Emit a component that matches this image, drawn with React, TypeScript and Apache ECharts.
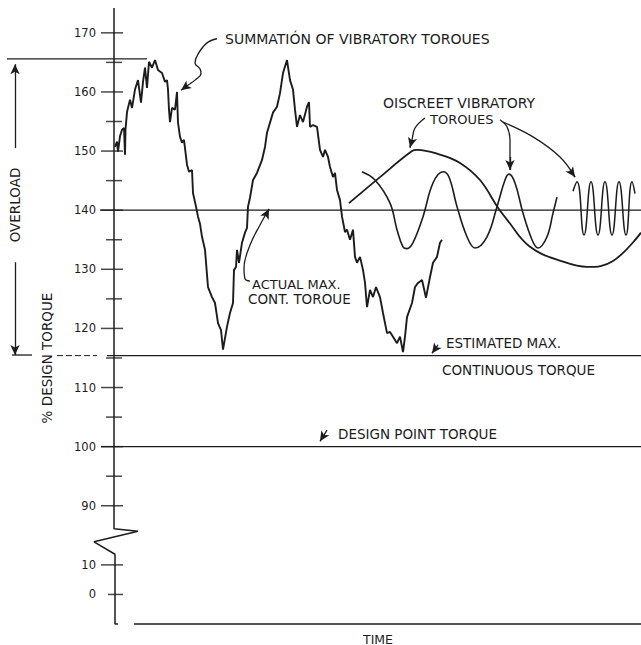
import React, { useEffect, useRef } from "react";
import * as echarts from "echarts";

// ---- Y axis (broken between 90 and 10): chart units and printed labels ----
const yTickValues = [75, 80, 90, 100, 110, 120, 130, 140, 150, 160, 170];
const yTickLabels = ["0", "10", "90", "100", "110", "120", "130", "140", "150", "160", "170"];
const yMajorTicks = [80, 90, 100, 110, 120, 130, 140, 150, 160, 170];
const yZeroTick = [75];
const yMinorTicks = [95, 105, 115, 125, 135, 145, 155, 165];

// ---- reference levels (% design torque) ----
const designPoint = 100;
const actualMaxCont = 140;
const estimatedMaxCont = 115.4;
const overloadTop = 165.6;

// ---- summation of vibratory torques [time, % torque] ----
const summation: number[][] = [
  [1, 150.7], [3, 151.6], [4, 149.9], [6, 152.5], [8, 153.6], [10, 153.9], [11, 149.4], [11.5, 153.6],
  [13, 156.6], [16, 158.7], [18, 157.3], [21, 160.4], [24, 162.0], [27, 158.2], [29, 161.7], [31, 164.1],
  [33, 160.7], [35, 165.1], [38, 164.1], [41, 165.4], [44, 163.7], [48, 163.2], [51, 161.7], [53, 162.0],
  [54, 160.4], [55, 157.0], [56, 154.9], [58, 157.3], [61, 157.0], [63, 160.0], [64, 154.8], [66, 152.4],
  [68, 151.4], [70, 151.9], [73, 147.7], [75, 146.5], [78, 146.8], [79, 142.9], [82, 140.6], [84, 138.9],
  [86, 137.7], [88, 135.5], [91, 133.3], [94, 127.0], [98, 125.3], [101, 124.3], [104, 120.9], [107, 119.7],
  [109, 116.4], [113, 120.3], [116, 122.6], [119, 124.3], [120, 129.9], [122, 130.4], [123, 133.3], [125, 131.1],
  [128, 134.5], [131, 136.2], [133, 137.0], [134, 140.6], [136, 142.1], [139, 145.1], [143, 146.3], [148, 148.5],
  [151, 150.7], [153, 153.1], [159, 156.5], [163, 157.5], [166, 159.8], [169, 163.2], [173, 165.4], [176, 162.0],
  [179, 160.4], [181, 157.0], [183, 154.1], [186, 156.1], [189, 154.9], [193, 157.5], [195, 158.3], [196, 154.1],
  [199, 154.4], [203, 154.1], [206, 150.2], [209, 149.0], [211, 150.2], [214, 149.0], [216, 147.3], [219, 145.6],
  [221, 146.3], [223, 143.4], [226, 141.7], [228, 138.9], [231, 136.3], [233, 136.7], [236, 135.0], [239, 136.7],
  [241, 132.1], [243, 131.1], [246, 132.1], [249, 129.9], [251, 127.7], [253, 123.6], [256, 126.5], [259, 125.3],
  [262, 127.0], [266, 125.3], [269, 122.6], [273, 119.2], [276, 119.4], [279, 118.6], [283, 117.5], [286, 118.6],
  [289, 116.0], [291, 118.6], [293, 121.9], [298, 124.3], [301, 127.0], [304, 127.7], [308, 128.2], [312, 125.2],
  [316, 128.7], [319, 131.1], [323, 132.1], [326, 134.5], [328, 135.0],
];

// ---- discrete vibratory torques ----
const slowWave: number[][] = [
  [235, 141.2], [266, 145.6], [298, 150.0], [303, 150.2], [326, 149.4], [346, 148.0], [366, 145.1],
  [384, 140.4], [393, 138.4], [416, 133.8], [449, 131.3], [473, 130.4], [499, 131.4], [527, 136.2],
];
const mediumWave: number[][] = [
  [248, 146.5], [261, 145.1], [276, 141.2], [283, 136.7], [289, 133.8], [293, 133.5], [299, 134.5],
  [309, 138.9], [319, 144.6], [329, 146.5], [335, 145.6], [343, 140.6], [353, 135.5], [361, 133.6],
  [373, 135.5], [383, 140.6], [391, 145.1], [395, 146.1], [401, 144.6], [409, 139.5], [418, 135.0],
  [424, 133.6], [433, 135.5], [439, 139.5], [443, 142.2],
];
const fastWave: number[][] = [
  [459, 143.2], [463, 144.8], [470, 135.8], [477, 144.8], [484, 135.8], [491, 144.8], [498, 135.8],
  [505, 144.8], [512, 135.8], [518, 144.8], [521, 142.8],
];

// ---- axis frame (with break symbol) ----
const yAxisFrame: number[][] = [[0, 174.2], [0, 86.1], [24, 85.7], [-20, 83.9], [1, 81.8], [1, 70], [4, 70]];
const xAxisFrame: number[][] = [[20, 70], [527, 70]];

// ---- leader lines ----
const sumLeader: number[][] = [[103, 169.0], [93, 168.3], [84, 166.4], [81, 164.9], [86, 163.9], [87, 163.1], [81, 162.0], [76, 161.4]];
const discLeaderA: number[][] = [[311, 155.6], [301, 153.9], [298, 151.9], [296, 150.6]];
const discLeaderB: number[][] = [[386, 155.3], [393, 154.1], [396, 151.9], [396, 146.8]];
const discLeaderC: number[][] = [[389, 154.9], [419, 152.4], [446, 149.0], [461, 145.6]];
const actualLeader: number[][] = [[136, 128.0], [131, 128.4], [130, 130.2], [136, 134.1], [146, 137.5], [155, 140.2]];

// ---- arrow heads [from, to] ----
const arrows: number[][][] = [
  [[76, 161.4], [67, 160.3]],
  [[298, 151.9], [296, 150.6]],
  [[396, 149.0], [396, 146.8]],
  [[456, 146.8], [461, 145.6]],
  [[152, 139.2], [155, 140.2]],
  [[324, 117.2], [318, 115.8]],
  [[213, 102.8], [206, 100.9]],
  [[-99, 150.5], [-99, 164.7]],
  [[-99, 131.2], [-99, 115.5]],
];

const INK = "#1c1c1c";
const FONT = "DejaVu Sans";

export default function App() {
  const ref = useRef<HTMLDivElement>(null);

  useEffect(() => {
    const chart = echarts.init(ref.current!, null, { renderer: "svg" });

    const line = (data: number[][], width = 1.4, extra: any = {}) => ({
      type: "line",
      data,
      symbol: "none",
      silent: true,
      clip: false,
      lineStyle: { color: INK, width },
      z: 3,
      ...extra,
    });

    const tickSeries = (vals: number[], size: number[], offset: number[]) => ({
      type: "scatter",
      data: vals.map((v) => [0, v]),
      symbol: "rect",
      symbolSize: size,
      symbolOffset: offset,
      silent: true,
      clip: false,
      itemStyle: { color: INK },
      z: 4,
    });

    const text = (t: string, x: number, y: number, size = 13.5, extra: any = {}, styleExtra: any = {}) => ({
      type: "text",
      x,
      y,
      silent: true,
      ...extra,
      style: {
        text: t,
        fill: INK,
        fontSize: size,
        fontFamily: FONT,
        align: "left",
        verticalAlign: "middle",
        textAlign: "left",
        textVerticalAlign: "middle",
        ...styleExtra,
      },
    });

    const option: any = {
      animation: false,
      backgroundColor: "#ffffff",
      grid: { left: 0, right: 0, top: 8, bottom: 21, containLabel: false },
      xAxis: { type: "value", min: -114, max: 527, show: false },
      yAxis: {
        type: "value",
        min: 70,
        max: 174.2,
        interval: 5,
        offset: -114,
        axisLine: { show: false, onZero: false },
        axisTick: { show: false },
        splitLine: { show: false },
        axisLabel: {
          margin: 18,
          fontSize: 11.5,
          fontFamily: FONT,
          color: INK,
          formatter: (v: number) => {
            const i = yTickValues.indexOf(Math.round(v * 10) / 10);
            return i >= 0 ? yTickLabels[i] : "";
          },
        },
      },
      series: [
        line(yAxisFrame, 1.5, {
          markLine: {
            silent: true,
            animation: false,
            symbol: ["none", "arrow"],
            symbolSize: [7, 10],
            label: { show: false },
            lineStyle: { color: INK, width: 1.3, type: "solid" },
            emphasis: { disabled: true },
            data: arrows.map(([a, b]) => [{ coord: a }, { coord: b }]),
          },
        }),
        line(xAxisFrame, 1.5),
        tickSeries(yMajorTicks, [22, 1.5], [-2, 0]),
        tickSeries(yZeroTick, [15, 1.5], [1.5, 0]),
        tickSeries(yMinorTicks, [16, 1.5], [0, 0]),
        line([[-14, actualMaxCont], [527, actualMaxCont]], 1.3),
        line([[-13, designPoint], [527, designPoint]], 1.3),
        line([[-7, estimatedMaxCont], [527, estimatedMaxCont]], 1.3),
        line([[-57, estimatedMaxCont], [-17, estimatedMaxCont]], 1.0, { lineStyle: { color: INK, width: 1.0, type: [6, 3] } }),
        line([[-107, overloadTop], [33, overloadTop]], 1.3),
        line([[-102, 115.5], [-82, 115.5]], 1.3),
        line(summation, 1.9, { z: 5 }),
        line(slowWave, 1.8, { smooth: 0.4, z: 5 }),
        line(mediumWave, 1.6, { smooth: 0.4, z: 5 }),
        line(fastWave, 1.5, { smooth: 0.5, z: 5 }),
        line(sumLeader, 1.3, { smooth: 0.4 }),
        line(discLeaderA, 1.3, { smooth: 0.4 }),
        line(discLeaderB, 1.3, { smooth: 0.4 }),
        line(discLeaderC, 1.3, { smooth: 0.4 }),
        line(actualLeader, 1.3, { smooth: 0.4 }),
      ],
      graphic: [
        text("SUMMATIÓN OF VIBRATORY TOROUES", 225, 39, 14),
        text("OISCREET VIBRATORY", 383, 103, 14),
        text("TOROUES", 430, 119, 13),
        text("ACTUAL MAX.", 252, 284, 13),
        text("CONT. TOROUE", 248, 299, 13.5),
        text("ESTIMATED MAX.", 446, 343, 13.5),
        text("CONTINUOUS TORQUE", 442, 370, 13.5),
        text("DESIGN POINT TORQUE", 497, 434, 13.5, {}, { align: "right", textAlign: "right" }),
        text("TIME", 363, 639, 12.5),
        text("% DESIGN TORQUE", 47, 358, 13.5, { rotation: Math.PI / 2 }, { align: "center", textAlign: "center" }),
        text("OVERLOAD", 15, 205, 13.5, { rotation: Math.PI / 2 }, { align: "center", textAlign: "center" }),
      ],
    };

    chart.setOption(option);
    return () => chart.dispose();
  }, []);

  return <div ref={ref} style={{ position: "absolute", left: 0, top: 0, width: 641, height: 645 }} />;
}
